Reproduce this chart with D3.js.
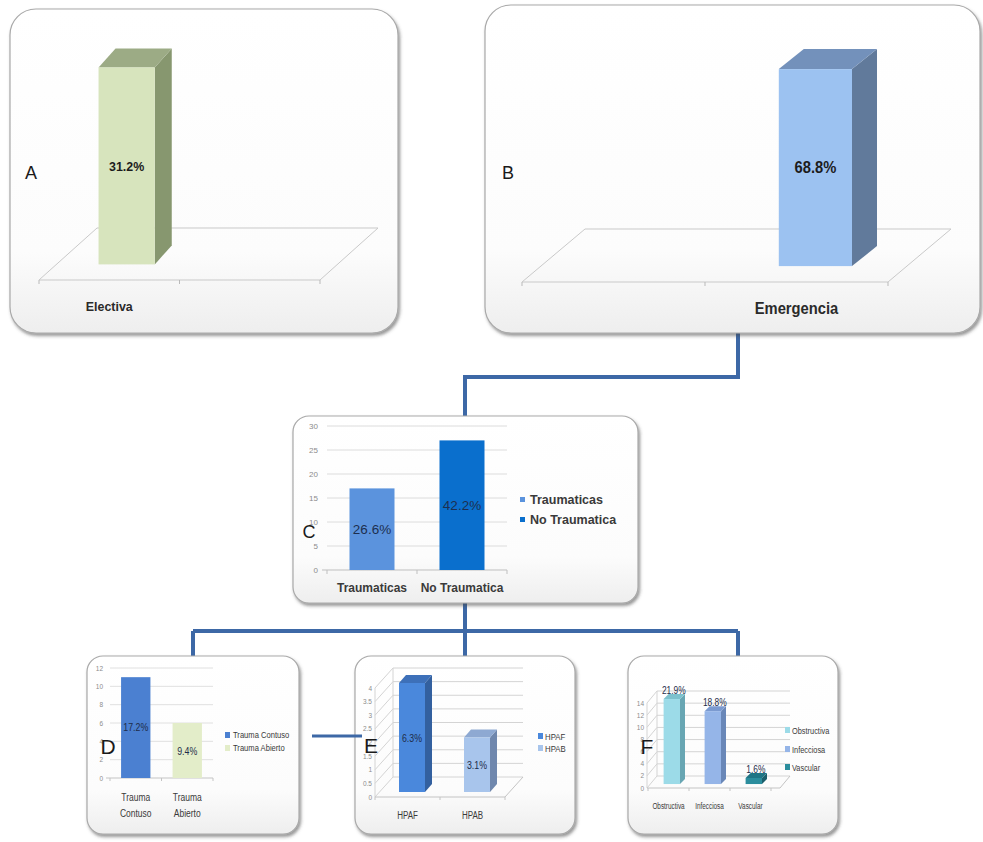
<!DOCTYPE html>
<html>
<head>
<meta charset="utf-8">
<script src="https://cdn.jsdelivr.net/npm/d3@7"></script>
<style>
  body { margin: 0; background: #fff; }
  svg { display: block; }
</style>
</head>
<body>
<svg id="chart" width="983" height="842"></svg>
<script>
// ---- Data ----------------------------------------------------------------
const totalPatients = 64;

// Tipo de cirugía (% del total)
const admissionTypes = ["Electiva", "Emergencia"];
const admissionPct = [31.2, 68.8];

// Emergencias según origen (casos)
const originCats = ["Traumaticas", "No Traumatica"];
const originCounts = [17, 27];
const originTicks = [0, 5, 10, 15, 20, 25, 30];

// Emergencias traumáticas (casos)
const traumaCats = ["Trauma Contuso", "Trauma Abierto"];
const traumaCounts = [11, 6];
const traumaTicks = [0, 2, 4, 6, 8, 10, 12];

// Heridas penetrantes (casos)
const herniaCats = ["HPAF", "HPAB"];
const herniaCounts = [4, 2];
const herniaTicks = [0, 0.5, 1, 1.5, 2, 2.5, 3, 3.5, 4];

// Emergencias no traumáticas (casos)
const nonTraumaCats = ["Obstructiva", "Infecciosa", "Vascular"];
const nonTraumaCounts = [14, 12, 1];
const nonTraumaTicks = [0, 2, 4, 6, 8, 10, 12, 14];

// ---- Helpers ---------------------------------------------------------------
const pct = c => (c / totalPatients * 100).toFixed(1) + "%";
const SANS = "'Liberation Sans', Arial, sans-serif";
const LINK = "#3d68a6";

const svg = d3.select("#chart");
const defs = svg.append("defs");

const grad = defs.append("linearGradient").attr("id", "boxFill")
  .attr("x1", 0).attr("y1", 0).attr("x2", 0).attr("y2", 1);
grad.append("stop").attr("offset", "0%").attr("stop-color", "#ffffff");
grad.append("stop").attr("offset", "75%").attr("stop-color", "#fcfcfc");
grad.append("stop").attr("offset", "100%").attr("stop-color", "#eeeeee");

const shadow = defs.append("filter").attr("id", "shadow")
  .attr("x", "-5%").attr("y", "-5%").attr("width", "112%").attr("height", "115%");
shadow.append("feDropShadow").attr("dx", 1.5).attr("dy", 2.5)
  .attr("stdDeviation", 1.6).attr("flood-color", "#444").attr("flood-opacity", 0.55);

const pts = arr => arr.map(p => p.join(",")).join(" ");

function frame(x, y, w, h, r) {
  svg.append("rect")
    .attr("x", x).attr("y", y).attr("width", w).attr("height", h)
    .attr("rx", r).attr("ry", r)
    .attr("fill", "url(#boxFill)")
    .attr("stroke", "#a9a9a9").attr("stroke-width", 1.2)
    .attr("filter", "url(#shadow)");
}

function bar3d(g, x0, yBase, w, h, dx, dy, c) {
  const top = yBase - h;
  g.append("polygon")
    .attr("points", pts([[x0 + w, top], [x0 + w + dx, top + dy], [x0 + w + dx, yBase + dy], [x0 + w, yBase]]))
    .attr("fill", c.side);
  g.append("polygon")
    .attr("points", pts([[x0, top], [x0 + dx, top + dy], [x0 + w + dx, top + dy], [x0 + w, top]]))
    .attr("fill", c.top);
  g.append("rect")
    .attr("x", x0).attr("y", top).attr("width", w).attr("height", h)
    .attr("fill", c.front);
}

// squeeze < 1 gives a condensed face by compressing the glyph run
function text(g, x, y, s, opts) {
  const o = Object.assign({ size: 12, weight: "normal", fill: "#222", anchor: "middle", squeeze: 1 }, opts || {});
  const t = g.append("text")
    .attr("x", x).attr("y", y)
    .attr("text-anchor", o.anchor)
    .attr("font-family", SANS)
    .attr("font-size", o.size)
    .attr("font-weight", o.weight)
    .attr("fill", o.fill)
    .text(s);
  if (o.squeeze !== 1) {
    const len = t.node().getComputedTextLength();
    t.attr("textLength", len * o.squeeze).attr("lengthAdjust", "spacingAndGlyphs");
  }
  return t;
}

function panelLetter(x, y, s, size) {
  text(svg, x, y, s, { size: size, fill: "#1a1a1a" });
}

// ---- Connectors (behind panels) -------------------------------------------
const links = [
  [[738, 333], [738, 377], [465, 377], [465, 418]],
  [[465, 600], [465, 631]],
  [[193, 631], [738, 631]],
  [[193, 631], [193, 658]],
  [[465, 631], [465, 658]],
  [[738, 631], [738, 658]]
];
links.forEach(l => {
  svg.append("path").attr("d", d3.line()(l))
    .attr("fill", "none").attr("stroke", LINK).attr("stroke-width", 4)
    .attr("stroke-linejoin", "miter");
});

// ---- Panel frames --------------------------------------------------------------
frame(10, 9, 388, 324, 26);
frame(485, 5, 495, 328, 26);
frame(293, 416, 345, 187, 16);
frame(87, 656, 212, 178, 16);
frame(355, 656, 220, 178, 16);
frame(628, 656, 210, 178, 16);

// D–E link drawn over the frames
svg.append("line").attr("x1", 312).attr("y1", 736).attr("x2", 362).attr("y2", 736)
  .attr("stroke", LINK).attr("stroke-width", 3);

// ---- A / B : 3-D single-bar panels -----------------------------------------
function admissionPanel(idx, floor, barH, depth, colors, labelSize, catSize, catY) {
  const g = svg.append("g");
  const x = d3.scaleBand().domain(admissionTypes).range([floor.x0, floor.x1]);
  const h = d3.scaleLinear().domain([0, admissionPct[idx]]).range([0, barH]);
  // floor
  g.append("polygon")
    .attr("points", pts([[floor.x0, floor.y], [floor.x1, floor.y],
      [floor.x1 + floor.dx, floor.y + floor.dy], [floor.x0 + floor.dx, floor.y + floor.dy]]))
    .attr("fill", "none").attr("stroke", "#c9c9c9").attr("stroke-width", 1);
  const edges = admissionTypes.map(d => x(d)).concat([floor.x1]);
  edges.forEach(e => g.append("line").attr("x1", e).attr("x2", e)
    .attr("y1", floor.y).attr("y2", floor.y + 4).attr("stroke", "#b9b9b9"));
  // bar, placed part of the way into the floor depth
  const cat = admissionTypes[idx];
  const f = 0.3;
  const w = x.bandwidth() * 0.4;
  const bx = x(cat) + x.bandwidth() / 2 - w / 2 + floor.dx * f;
  const by = floor.y + floor.dy * f;
  const v = admissionPct[idx];
  bar3d(g, bx, by, w, h(v), depth.dx, depth.dy, colors);
  text(g, bx + w / 2, by - h(v) / 2 + labelSize * 0.35, v.toFixed(1) + "%",
    { size: labelSize, weight: "bold", fill: "#1c1c1c", squeeze: 0.92 });
  text(g, x(cat) + x.bandwidth() / 2, catY, cat,
    { size: catSize, weight: "bold", fill: "#2a2a2a", squeeze: 0.92 });
}

admissionPanel(0, { x0: 39, x1: 320, y: 280, dx: 58, dy: -52 }, 197, { dx: 17, dy: -19 },
  { front: "#d7e4bd", top: "#9cab85", side: "#87976f" }, 13.5, 13.5, 311);
admissionPanel(1, { x0: 522, x1: 888, y: 282, dx: 63, dy: -53 }, 197, { dx: 25, dy: -20 },
  { front: "#9cc2f1", top: "#7391bb", side: "#617a9b" }, 16, 16, 314);

panelLetter(31, 179, "A", 18);
panelLetter(508, 179, "B", 18);

// ---- C : origen de la emergencia (2-D columns) -------------------------------
(function () {
  const g = svg.append("g");
  const x = d3.scaleBand().domain(originCats).range([327, 507]);
  const y = d3.scaleLinear().domain([0, 30]).range([570, 426]);
  originTicks.forEach(t => {
    if (t > 0) g.append("line").attr("x1", 327).attr("x2", 507)
      .attr("y1", y(t)).attr("y2", y(t)).attr("stroke", "#dcdcdc");
    text(g, 318, y(t) + 3, t, { size: 8, anchor: "end", fill: "#8c8c8c" });
  });
  g.append("line").attr("x1", 322).attr("x2", 507).attr("y1", y(0)).attr("y2", y(0)).attr("stroke", "#bfbfbf");
  [327, 417, 507].forEach(e => g.append("line").attr("x1", e).attr("x2", e)
    .attr("y1", y(0)).attr("y2", y(0) + 4).attr("stroke", "#bfbfbf"));
  const fills = ["#5b93dd", "#0a6fcd"];
  originCats.forEach((c, i) => {
    const w = x.bandwidth() * 0.5;
    const cx = x(c) + x.bandwidth() / 2;
    g.append("rect").attr("x", cx - w / 2).attr("y", y(originCounts[i]))
      .attr("width", w).attr("height", y(0) - y(originCounts[i])).attr("fill", fills[i]);
    text(g, cx, (y(0) + y(originCounts[i])) / 2 + 5, pct(originCounts[i]), { size: 13.5, fill: "#1d2f4f" });
    text(g, cx, 592, c, { size: 12, weight: "bold", fill: "#3a3a3a" });
    g.append("rect").attr("x", 520).attr("y", 497 + i * 20).attr("width", 5).attr("height", 5).attr("fill", fills[i]);
    text(g, 530, 504 + i * 20, c, { size: 12.5, weight: "bold", fill: "#3a3a3a", anchor: "start" });
  });
  panelLetter(309, 538, "C", 18);
})();

// ---- D : trauma (2-D columns) ----------------------------------------------
(function () {
  const g = svg.append("g");
  const x = d3.scaleBand().domain(traumaCats).range([110, 213]);
  const y = d3.scaleLinear().domain([0, 12]).range([778, 668]);
  traumaTicks.forEach(t => {
    if (t > 0) g.append("line").attr("x1", 110).attr("x2", 213)
      .attr("y1", y(t)).attr("y2", y(t)).attr("stroke", "#e0e0e0");
    text(g, 103, y(t) + 2.5, t, { size: 6.5, anchor: "end", fill: "#8c8c8c" });
  });
  g.append("line").attr("x1", 106).attr("x2", 213).attr("y1", y(0)).attr("y2", y(0)).attr("stroke", "#c4c4c4");
  [110, 161.5, 213].forEach(e => g.append("line").attr("x1", e).attr("x2", e)
    .attr("y1", y(0)).attr("y2", y(0) + 3).attr("stroke", "#c4c4c4"));
  const fills = ["#4b80d1", "#e3edc9"];
  traumaCats.forEach((c, i) => {
    const w = x.bandwidth() * 0.57;
    const cx = x(c) + x.bandwidth() / 2;
    g.append("rect").attr("x", cx - w / 2).attr("y", y(traumaCounts[i]))
      .attr("width", w).attr("height", y(0) - y(traumaCounts[i])).attr("fill", fills[i]);
    const ly = i === 0 ? 731 : 755;
    text(g, cx, ly, pct(traumaCounts[i]), { size: 11, fill: "#1e2d4a", squeeze: 0.8 });
    const parts = c.split(" ");
    text(g, cx, 801, parts[0], { size: 10, fill: "#3a3a3a", squeeze: 0.85 });
    text(g, cx, 817, parts[1], { size: 10, fill: "#3a3a3a", squeeze: 0.85 });
    g.append("rect").attr("x", 225).attr("y", 732 + i * 13).attr("width", 5).attr("height", 6).attr("fill", fills[i]);
    text(g, 233, 738 + i * 13, c, { size: 9.5, fill: "#3a3a3a", anchor: "start", squeeze: 0.8 });
  });
  panelLetter(108, 754, "D", 21);
})();

// ---- 3-D column panel with walls (E, F) ----------------------------------------
function wallPanel(cfg) {
  const g = svg.append("g");
  const { fx0, fx1, fy, wdx, wdy, backX1, height, domainMax } = cfg;
  const h = d3.scaleLinear().domain([0, domainMax]).range([0, height]);
  const x = d3.scaleBand().domain(cfg.cats).range([cfg.bandX0, cfg.bandX1]);
  const grid = "#d4d4d4";
  // walls & grid
  cfg.ticks.forEach(t => {
    const yb = fy + wdy - h(t);
    g.append("line").attr("x1", fx0).attr("y1", fy - h(t)).attr("x2", fx0 + wdx).attr("y2", yb).attr("stroke", grid);
    g.append("line").attr("x1", fx0 + wdx).attr("y1", yb).attr("x2", backX1).attr("y2", yb).attr("stroke", grid);
    text(g, fx0 - 3, fy - h(t) + 2.5, t, { size: 6.5, anchor: "end", fill: "#8c8c8c" });
  });
  g.append("line").attr("x1", fx0).attr("y1", fy).attr("x2", fx0).attr("y2", fy - h(domainMax)).attr("stroke", grid);
  g.append("line").attr("x1", fx0 + wdx).attr("y1", fy + wdy).attr("x2", fx0 + wdx).attr("y2", fy + wdy - h(domainMax)).attr("stroke", grid);
  g.append("polyline")
    .attr("points", pts([[fx0, fy], [fx1, fy], [backX1, fy + wdy]]))
    .attr("fill", "none").attr("stroke", "#c4c4c4");
  x.domain().map(d => x(d)).concat([cfg.bandX1]).forEach(e => g.append("line")
    .attr("x1", e).attr("x2", e).attr("y1", fy).attr("y2", fy + 3).attr("stroke", "#c4c4c4"));
  // bars
  const f = cfg.depthFrac;
  cfg.cats.forEach((c, i) => {
    const w = x.bandwidth() * cfg.barFrac;
    const bx = x(c) + x.bandwidth() / 2 - w / 2 + wdx * f;
    const by = fy + wdy * f;
    const v = cfg.values[i];
    bar3d(g, bx, by, w, h(v), cfg.bdx, cfg.bdy, cfg.colors[i]);
    const lp = cfg.labelPos(i, bx + w / 2, by - h(v), by);
    text(g, lp[0], lp[1], pct(v), { size: cfg.labelSize, fill: "#1e2d4a", squeeze: 0.8 });
    text(g, x(c) + x.bandwidth() / 2, cfg.catY, c, { size: cfg.catSize, fill: "#3a3a3a", squeeze: cfg.catSqueeze });
    g.append("rect").attr("x", cfg.legX).attr("y", cfg.legY[i] - 3).attr("width", 5).attr("height", 6)
      .attr("fill", cfg.colors[i].front);
    text(g, cfg.legX + 7, cfg.legY[i] + 3.5, c, { size: cfg.legSize, fill: "#3a3a3a", anchor: "start", squeeze: 0.82 });
  });
}

wallPanel({
  cats: herniaCats, values: herniaCounts, ticks: herniaTicks, domainMax: 4,
  fx0: 375, fx1: 505, fy: 797, wdx: 18, wdy: -20, backX1: 523, height: 109,
  bandX0: 375, bandX1: 505, barFrac: 0.4, depthFrac: 0.25, bdx: 7, bdy: -8,
  colors: [
    { front: "#4a88dc", top: "#3d70b9", side: "#33609f" },
    { front: "#a8c5ec", top: "#8ea9d2", side: "#6f87ad" }
  ],
  labelSize: 11, labelPos: (i, cx, top, base) => [cx, (top + base) / 2 + 4],
  catY: 819, catSize: 10, catSqueeze: 0.8, legX: 538, legY: [736, 748], legSize: 9.5
});

wallPanel({
  cats: nonTraumaCats, values: nonTraumaCounts, ticks: nonTraumaTicks, domainMax: 14,
  fx0: 647, fx1: 780, fy: 788, wdx: 10, wdy: -12, backX1: 790, height: 85,
  bandX0: 648, bandX1: 771, barFrac: 0.4, depthFrac: 0.33, bdx: 5, bdy: -5,
  colors: [
    { front: "#9cdbe8", top: "#7dc1cd", side: "#68a6b3" },
    { front: "#95b5e8", top: "#7b9ad0", side: "#6987b8" },
    { front: "#2b8d9d", top: "#1f7585", side: "#1b5e6b" }
  ],
  labelSize: 10.5, labelPos: (i, cx, top, base) => [cx + 2, top - 5],
  catY: 809, catSize: 8.5, catSqueeze: 0.75, legX: 785, legY: [730, 749, 767], legSize: 9
});

panelLetter(371, 753, "E", 21);
panelLetter(647, 754, "F", 21);
</script>
</body>
</html>
